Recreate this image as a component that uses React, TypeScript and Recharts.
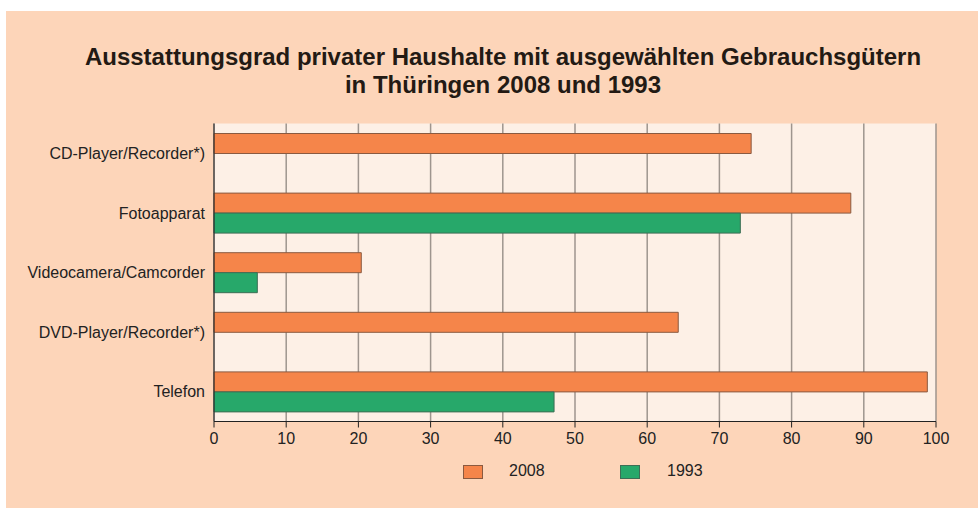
import React from 'react';
import {
  BarChart, Bar, XAxis, YAxis, CartesianGrid,
} from 'recharts';

const categories = [
  'CD-Player/Recorder*)',
  'Fotoapparat',
  'Videocamera/Camcorder',
  'DVD-Player/Recorder*)',
  'Telefon',
];
const values2008 = [74.4, 88.2, 20.4, 64.3, 98.8];
const values1993: (number | null)[] = [null, 72.9, 6.0, null, 47.1];
const xTicks = [0, 10, 20, 30, 40, 50, 60, 70, 80, 90, 100];

const ORANGE = '#f5854a';
const GREEN = '#27a86a';
const FONT = '"Liberation Sans", Arial, sans-serif';

const data = categories.map((name, i) => ({
  name,
  y2008: values2008[i],
  y1993: values1993[i],
}));

// legend drawn by hand, the way the original has it (boxes far from labels)
const ChartLegend = () => (
  <div style={{ position: 'absolute', left: 0, top: 452, width: 972, height: 20, fontFamily: FONT, fontSize: 16, color: '#222' }}>
    <div style={{ position: 'absolute', left: 457, top: 2, width: 18, height: 12, background: ORANGE, border: '1px solid #8a5a40' }} />
    <span style={{ position: 'absolute', left: 503, top: -1 }}>2008</span>
    <div style={{ position: 'absolute', left: 614, top: 2, width: 18, height: 12, background: GREEN, border: '1px solid #3d6e55' }} />
    <span style={{ position: 'absolute', left: 661, top: -1 }}>1993</span>
  </div>
);

export default function App() {
  return (
    <div style={{ position: 'absolute', left: 0, top: 0, width: 978, height: 508, background: '#ffffff' }}>
      <div style={{ position: 'absolute', left: 6, top: 11, width: 972, height: 497, background: '#fdd5b9' }}>
        <div style={{
          position: 'absolute', left: 0, top: 32, width: 994, textAlign: 'center',
          fontFamily: FONT, fontWeight: 'bold', fontSize: 24, lineHeight: '28px', color: '#231a14',
        }}>
          Ausstattungsgrad privater Haushalte mit ausgewählten Gebrauchsgütern<br />
          in Thüringen 2008 und 1993
        </div>
        <BarChart
          width={972}
          height={497}
          data={data}
          layout="vertical"
          barSize={20}
          barGap={0}
          margin={{ top: 112.5, right: 42, left: 8, bottom: 56.5 }}
          style={{ position: 'absolute', left: 0, top: 0 }}
        >
          <CartesianGrid horizontal={false} stroke="#9e958e" strokeWidth={1.5} fill="#fdf0e6" />
          <XAxis
            type="number"
            domain={[0, 100]}
            ticks={xTicks}
            interval={0}
            stroke="#222"
            tickSize={6}
            tickMargin={5}
            height={30}
            tick={{ fill: '#222', fontSize: 16, fontFamily: FONT }}
          />
          <XAxis xAxisId="top" orientation="top" type="number" domain={[0, 100]} stroke="#333" tick={false} tickLine={false} height={0} />
          <YAxis
            type="category"
            dataKey="name"
            width={200}
            stroke="#222"
            tickLine={false}
            tickSize={6}
            tickMargin={3}
            tick={{ fill: '#222', fontSize: 16, fontFamily: FONT }}
          />
          <YAxis yAxisId="right" orientation="right" type="category" dataKey="name" stroke="#333" tick={false} tickLine={false} width={0} />
          <Bar dataKey="y2008" name="2008" fill={ORANGE} stroke="#8a5a40" strokeWidth={1} isAnimationActive={false} />
          <Bar dataKey="y1993" name="1993" fill={GREEN} stroke="#3d6e55" strokeWidth={1} isAnimationActive={false} />
        </BarChart>
        <ChartLegend />
      </div>
    </div>
  );
}
